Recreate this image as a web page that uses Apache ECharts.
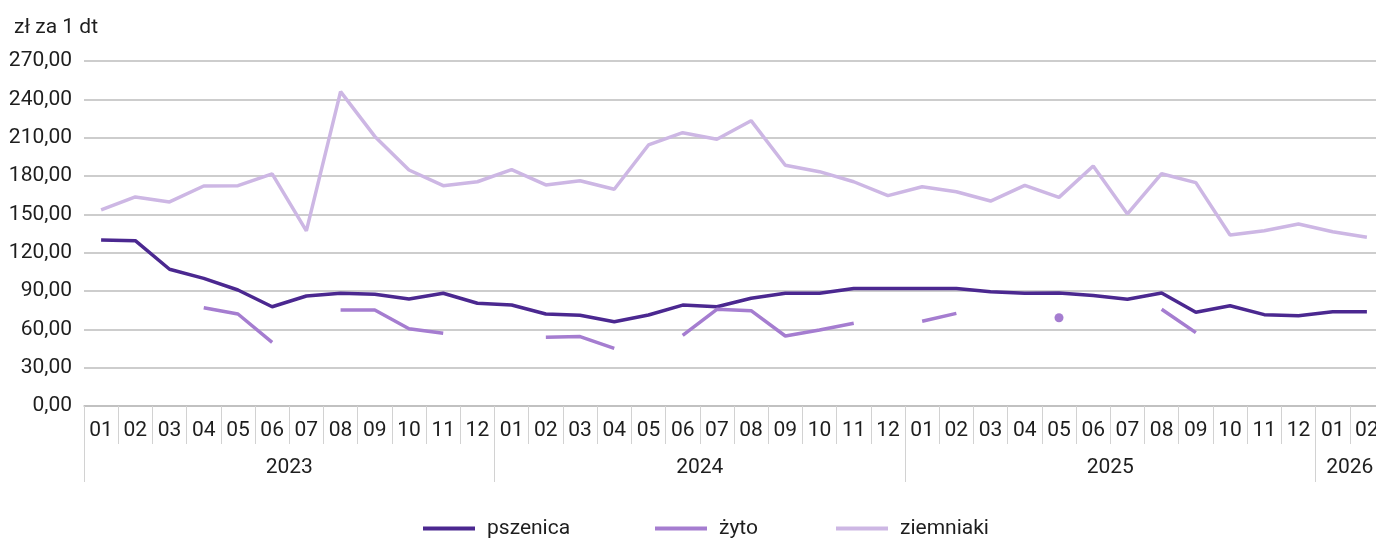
<!DOCTYPE html>
<html>
<head>
<meta charset="utf-8">
<script src="https://cdn.jsdelivr.net/npm/echarts@6/dist/echarts.min.js"></script>
<style>html,body{margin:0;padding:0;background:#fff}#c{width:1376px;height:542px}</style>
</head>
<body>
<div id="c"></div>
<script>
var months = ['01','02','03','04','05','06','07','08','09','10','11','12',
              '01','02','03','04','05','06','07','08','09','10','11','12',
              '01','02','03','04','05','06','07','08','09','10','11','12',
              '01','02'];
var years = ['2023','2024','2025','2026'];
var yearMonthCounts = [12,12,12,2];
var yTicks = [0,30,60,90,120,150,180,210,240,270];

var pszenica = [129.9,129.4,107.0,99.9,90.8,77.7,86.1,88.2,87.4,83.7,88.2,80.4,
                79.0,72.0,71.0,66.0,71.2,79.0,77.7,84.3,88.2,88.2,91.9,91.9,
                91.9,92.0,89.5,88.2,88.5,86.4,83.5,88.5,73.3,78.5,71.5,70.7,
                73.8,73.8];
var zyto = [null,null,null,76.9,72.0,49.8,null,75.1,75.1,60.5,56.9,null,
            null,53.8,54.3,45.1,null,55.3,75.7,74.6,54.8,59.5,64.7,null,
            66.3,72.5,null,null,69.1,null,null,75.7,57.4,null,null,null,
            null,null];
var ziemniaki = [153.4,163.6,159.7,172.2,172.4,181.6,137.0,246.0,211.0,184.7,172.4,175.5,
                 185.0,173.0,176.3,169.6,204.3,213.9,208.7,223.3,188.4,183.4,175.5,164.6,
                 171.6,167.7,160.4,172.7,163.3,187.8,150.3,181.8,174.8,133.8,137.2,142.4,
                 136.4,132.0];

var FONT = "'Liberation Sans Narrow', 'Roboto', sans-serif";
var TXT = '#1e1e1e';
var C_PSZ = '#4b2890', C_ZYT = '#a57dd0', C_ZIE = '#cdb7e4';

var yearBounds = [0], yearCenters = [];
var acc = 0;
yearMonthCounts.forEach(function(n){ yearCenters.push(acc + n/2); acc += n; yearBounds.push(acc); });
yearBounds.pop();
var nCat = months.length;

function isolatedData(arr){
  return arr.map(function(v,i){
    var iso = v != null && arr[i-1] == null && arr[i+1] == null;
    return {value: v, symbolSize: iso ? 9 : 0};
  });
}

var chart = echarts.init(document.getElementById('c'), null, {renderer:'canvas'});
var legendBase = {
  top: 513, itemWidth: 52, itemHeight: 4, icon: 'rect',
  textStyle: {fontFamily: FONT, fontSize: 21, color: TXT, padding: [0,0,0,7]},
  itemGap: 10, selectedMode: false
};
chart.setOption({
  animation: false,
  title: {text: 'zł za 1 dt', left: 9, top: 12,
          textStyle: {fontFamily: FONT, fontSize: 21, fontWeight: 'normal', color: TXT}},
  legend: [
    Object.assign({}, legendBase, {data: ['pszenica'], left: 418}),
    Object.assign({}, legendBase, {data: ['żyto'], left: 650}),
    Object.assign({}, legendBase, {data: ['ziemniaki'], left: 831})
  ],
  grid: {left: 84, top: 61, width: 1300, height: 345, containLabel: false, outerBoundsMode: 'none'},
  xAxis: [
    {type: 'category', data: months, boundaryGap: true, position: 'bottom',
     axisLine: {show: true, lineStyle: {color: '#bdbdbd', width: 1.5}},
     axisTick: {show: true, interval: 0, length: 38, lineStyle: {color: '#d2d2d2'}},
     axisLabel: {interval: 0, margin: 14, fontFamily: FONT, fontSize: 21, color: TXT},
     splitLine: {show: false}},
    {type: 'value', min: 0, max: nCat, position: 'bottom',
     axisLine: {show: false},
     axisTick: {show: true, customValues: yearBounds, length: 76, lineStyle: {color: '#d2d2d2'}},
     axisLabel: {customValues: yearCenters, margin: 51, fontFamily: FONT, fontSize: 21, color: TXT,
                 formatter: function(v){ var i = yearCenters.indexOf(v); return i >= 0 ? years[i] : ''; }},
     splitLine: {show: false}}
  ],
  yAxis: {type: 'value', min: yTicks[0], max: yTicks[yTicks.length-1], interval: 30,
    axisLine: {show: false}, axisTick: {show: false},
    splitLine: {show: true, lineStyle: {color: '#bdbdbd', width: 1.5}},
    axisLabel: {margin: 12, fontFamily: FONT, fontSize: 21, color: TXT,
      formatter: function(v){ return v.toFixed(2).replace('.', ','); }}},
  series: [
    {name: 'ziemniaki', type: 'line', data: ziemniaki, showSymbol: false,
     lineStyle: {color: C_ZIE, width: 3.5}, itemStyle: {color: C_ZIE}, z: 2},
    {name: 'pszenica', type: 'line', data: pszenica, showSymbol: false,
     lineStyle: {color: C_PSZ, width: 3.5}, itemStyle: {color: C_PSZ}, z: 3},
    {name: 'żyto', type: 'line', data: isolatedData(zyto), showSymbol: true, showAllSymbol: true,
     symbol: 'circle', connectNulls: false,
     lineStyle: {color: C_ZYT, width: 3.5}, itemStyle: {color: C_ZYT}, z: 4}
  ]
});
</script>
</body>
</html>
